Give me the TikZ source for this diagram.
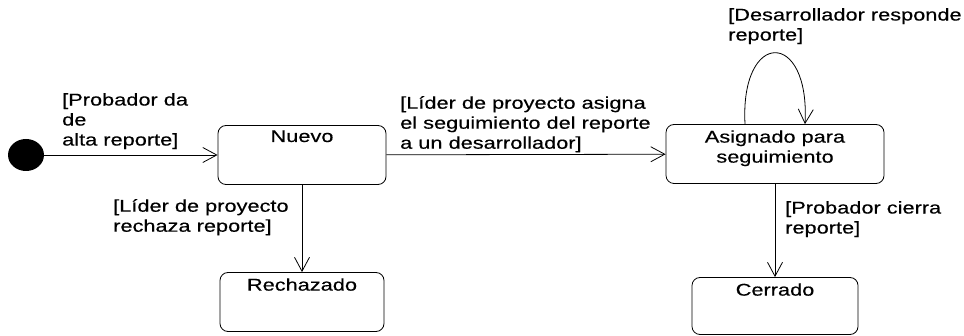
\documentclass[tikz,border=0pt]{standalone}
\usepackage{fontspec}
\setmainfont{Liberation Sans}[FakeStretch=1.28,FakeBold=0.4]
\usetikzlibrary{calc,arrows.meta,shapes.geometric}
\tikzset{
  statebox/.style={draw=black, line width=0.8pt, rounded corners=8pt, inner sep=0pt},
  stxt/.style={inner sep=0pt, align=center, font=\fontsize{17}{20}\selectfont},
  guard/.style={inner sep=0pt, align=left, anchor=north west, font=\fontsize{17}{20}\selectfont},
  trans/.style={draw=black, line width=0.8pt, -{Straight Barb[length=14pt,width=15pt,line width=0.8pt]}},
}
\begin{document}
\begin{tikzpicture}[x=1pt,y=-1pt]
\useasboundingbox (0,0) rectangle (964,336);
% states
\node[ellipse, fill=black, minimum width=36pt, minimum height=32pt, inner sep=0pt] (init) at (26,155) {};
\node[statebox, minimum width=168pt, minimum height=59pt] (nuevo) at (302,155) {};
\node[statebox, minimum width=218pt, minimum height=59pt] (asig) at (775,154) {};
\node[statebox, minimum width=164pt, minimum height=59pt] (rech) at (302,302) {};
\node[statebox, minimum width=166pt, minimum height=57pt] (cerr) at (775,306) {};
% state names
\node[stxt, anchor=north] (nuevoT) at ($(nuevo.north)+(0,5)$) {Nuevo};
\node[stxt, anchor=north] (asigT) at ($(asig.north)+(0,6)$) {Asignado para\\seguimiento};
\node[stxt, anchor=north] (rechT) at ($(rech.north)+(0,6)$) {Rechazado};
\node[stxt, anchor=north] (cerrT) at ($(cerr.north)+(0,6)$) {Cerrado};
% transitions
\draw[trans] (init) -- (nuevo);
\draw[trans] (nuevo) -- (asig);
\draw[trans] (nuevo) -- (rech);
\draw[trans] (asig) -- (cerr);
\draw[trans] ($(asig.north)+(-30,0)$) .. controls ($(asig.north)+(-35,-95)$) and ($(asig.north)+(35,-95)$) .. ($(asig.north)+(30,0)$);
% guards
\node[guard] (g1) at (62,93) {[Probador da\\de\\alta reporte]};
\node[guard] (g2) at (400,96) {[Líder de proyecto asigna\\el seguimiento del reporte\\a un desarrollador]};
\node[guard] (g3) at (113,199) {[Líder de proyecto\\rechaza reporte]};
\node[guard] (g4) at (728,8) {[Desarrollador responde\\reporte]};
\node[guard] (g5) at (785,201) {[Probador cierra\\reporte]};
\end{tikzpicture}
\end{document}
